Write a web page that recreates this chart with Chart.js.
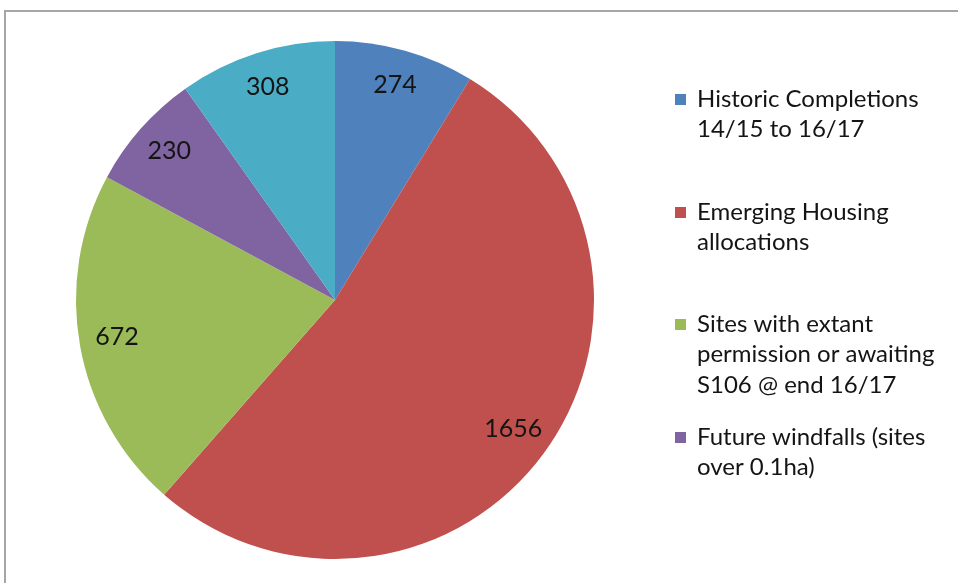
<!DOCTYPE html>
<html>
<head>
<meta charset="utf-8">
<script src="https://cdn.jsdelivr.net/npm/chart.js@4.4.1/dist/chart.umd.min.js"></script>
<style>
  html, body { margin: 0; padding: 0; background: #fff; }
  #wrap { position: relative; width: 958px; height: 583px; overflow: hidden; }
  #frame { position: absolute; left: 4px; top: 10px; width: 1000px; height: 700px;
           border-left: 2px solid #a6a6a6; border-top: 2px solid #a6a6a6; }
  canvas { position: absolute; left: 0; top: 0; }
</style>
</head>
<body>
<div id="wrap">
  <div id="frame"></div>
  <canvas id="c" width="958" height="583"></canvas>
</div>
<script>
const categories = [
  "Historic Completions 14/15 to 16/17",
  "Emerging Housing allocations",
  "Sites with extant permission or awaiting S106 @ end 16/17",
  "Future windfalls (sites over 0.1ha)",
  "Other"
];
const legendLines = [
  ["Historic Completions", "14/15 to 16/17"],
  ["Emerging Housing", "allocations"],
  ["Sites with extant", "permission or awaiting", "S106 @ end 16/17"],
  ["Future windfalls (sites", "over 0.1ha)"]
];
const values = [274, 1656, 672, 230, 308];
const colors = ["#4F81BD", "#C0504D", "#9BBB59", "#8064A2", "#4BACC6"];

const FONT = "Lato, 'Open Sans', sans-serif";

const labelPlugin = {
  id: 'sliceLabels',
  afterDatasetsDraw(chart) {
    const ctx = chart.ctx;
    const meta = chart.getDatasetMeta(0);
    ctx.save();
    ctx.font = "25px " + FONT;
    ctx.fillStyle = "#141414";
    ctx.textAlign = "center";
    ctx.textBaseline = "middle";
    meta.data.forEach((arc, i) => {
      const p = arc.getProps(['x', 'y', 'startAngle', 'endAngle', 'outerRadius'], true);
      const mid = (p.startAngle + p.endAngle) / 2;
      const r = p.outerRadius * 0.855;
      ctx.fillText(String(values[i]), p.x + Math.cos(mid) * r, p.y + Math.sin(mid) * r - 2);
    });
    ctx.restore();
  }
};

const legendPlugin = {
  id: 'sideLegend',
  afterDraw(chart) {
    const ctx = chart.ctx;
    const tops = [99, 212, 324, 437];
    ctx.save();
    ctx.font = "24px " + FONT;
    ctx.textBaseline = "middle";
    ctx.textAlign = "left";
    legendLines.forEach((lines, i) => {
      const y0 = tops[i];
      ctx.fillStyle = colors[i];
      ctx.fillRect(675, y0 - 5, 11, 11);
      ctx.fillStyle = "#141414";
      lines.forEach((t, j) => ctx.fillText(t, 697, y0 + j * 30.5));
    });
    ctx.restore();
  }
};

new Chart(document.getElementById('c'), {
  type: 'pie',
  data: {
    labels: categories,
    datasets: [{
      data: values,
      backgroundColor: colors,
      borderWidth: 0
    }]
  },
  options: {
    responsive: false,
    animation: false,
    layout: { padding: { left: 76, right: 364, top: 41, bottom: 24 } },
    plugins: {
      legend: { display: false },
      tooltip: { enabled: false },
      title: { display: false }
    }
  },
  plugins: [labelPlugin, legendPlugin]
});
</script>
</body>
</html>
